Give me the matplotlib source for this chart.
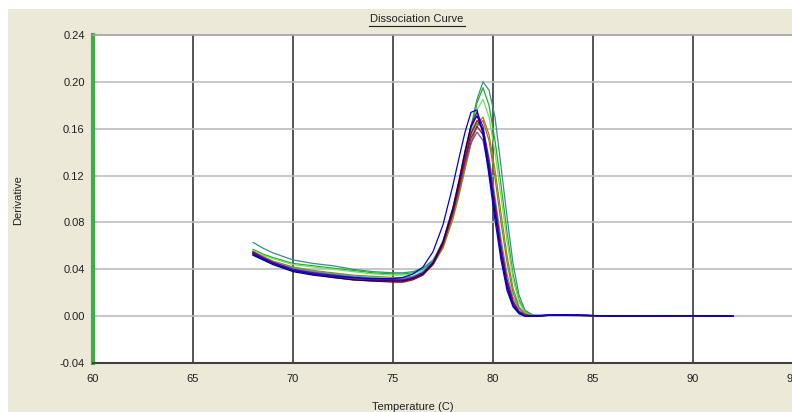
import matplotlib.pyplot as plt
from matplotlib.patches import Rectangle
from matplotlib.lines import Line2D

# temperature grid (C)
temps = [68, 68.5, 69, 70, 71, 72, 73, 74, 75, 75.5, 76, 76.5, 77, 77.5, 78,
         78.3, 78.6, 78.9, 79.2, 79.5, 79.8, 80.1, 80.4, 80.7, 81.0, 81.3, 81.6,
         82.0, 83, 84, 86, 88, 90, 92]

# derivative curves, one per well
teal = [0.063, 0.058, 0.054, 0.048, 0.045, 0.043, 0.040, 0.038, 0.037, 0.037, 0.038, 0.041, 0.048, 0.062, 0.088,
        0.110, 0.135, 0.162, 0.185, 0.200, 0.193, 0.170, 0.128, 0.085, 0.045, 0.018, 0.005,
        0.001, 0.001, 0.001, 0.0, 0.0, 0.0005, 0.0]
green = [0.057, 0.053, 0.050, 0.045, 0.043, 0.041, 0.039, 0.037, 0.036, 0.036, 0.037, 0.040, 0.047, 0.061, 0.087,
         0.108, 0.132, 0.158, 0.182, 0.195, 0.180, 0.150, 0.112, 0.072, 0.036, 0.014, 0.004,
         0.0, 0.001, 0.0008, 0.0, 0.0002, 0.0004, 0.0]
blue = [0.053, 0.049, 0.045, 0.039, 0.036, 0.034, 0.033, 0.032, 0.032, 0.033, 0.036, 0.042, 0.055, 0.078, 0.112,
        0.135, 0.157, 0.174, 0.176, 0.155, 0.120, 0.082, 0.048, 0.022, 0.008, 0.002, 0.0,
        0.0, 0.001, 0.001, 0.0, 0.0002, 0.0004, 0.0]
navy = [0.052, 0.048, 0.044, 0.038, 0.035, 0.033, 0.031, 0.030, 0.030, 0.030, 0.032, 0.036, 0.045, 0.063, 0.092,
        0.115, 0.140, 0.162, 0.171, 0.158, 0.125, 0.088, 0.052, 0.025, 0.009, 0.003, 0.0,
        0.0, 0.001, 0.0008, 0.0, 0.0002, 0.0004, 0.0]
purple = [0.055, 0.050, 0.046, 0.040, 0.037, 0.035, 0.033, 0.031, 0.031, 0.031, 0.033, 0.037, 0.046, 0.064, 0.093,
          0.116, 0.141, 0.163, 0.174, 0.162, 0.130, 0.093, 0.056, 0.028, 0.011, 0.003, 0.0,
          0.0, 0.0008, 0.001, 0.0, 0.0, 0.0004, 0.0]
red = [0.054, 0.049, 0.045, 0.039, 0.036, 0.033, 0.031, 0.030, 0.029, 0.029, 0.031, 0.035, 0.044, 0.061, 0.089,
       0.111, 0.135, 0.156, 0.167, 0.160, 0.132, 0.097, 0.060, 0.031, 0.013, 0.004, 0.001,
       0.0, 0.0008, 0.0005, 0.0, 0.0002, 0.0, 0.0]
maroon = [0.053, 0.049, 0.045, 0.039, 0.036, 0.034, 0.032, 0.031, 0.030, 0.030, 0.032, 0.036, 0.045, 0.062, 0.089,
          0.110, 0.133, 0.152, 0.162, 0.155, 0.128, 0.094, 0.058, 0.030, 0.012, 0.004, 0.001,
          0.0, 0.001, 0.0008, 0.0, 0.0002, 0.0004, 0.0]
violet = [0.054, 0.050, 0.046, 0.040, 0.037, 0.035, 0.033, 0.032, 0.031, 0.031, 0.033, 0.037, 0.046, 0.062, 0.088,
          0.108, 0.130, 0.148, 0.157, 0.150, 0.124, 0.090, 0.055, 0.028, 0.011, 0.003, 0.0,
          0.0, 0.001, 0.001, 0.0, 0.0002, 0.0004, 0.0]
olive = [0.055, 0.051, 0.047, 0.042, 0.039, 0.037, 0.035, 0.034, 0.033, 0.033, 0.034, 0.037, 0.044, 0.058, 0.083,
         0.103, 0.125, 0.147, 0.163, 0.170, 0.155, 0.125, 0.088, 0.052, 0.024, 0.008, 0.002,
         0.0, 0.0008, 0.0008, 0.0, 0.0, 0.0004, 0.0]
lightgreen = [0.056, 0.052, 0.049, 0.044, 0.042, 0.040, 0.038, 0.036, 0.035, 0.035, 0.036, 0.039, 0.046, 0.060, 0.086,
              0.106, 0.130, 0.155, 0.176, 0.185, 0.170, 0.140, 0.102, 0.064, 0.032, 0.012, 0.003,
              0.0, 0.001, 0.0008, 0.0, 0.0002, 0.0004, 0.0]
cyan = [0.053, 0.049, 0.046, 0.041, 0.038, 0.036, 0.034, 0.033, 0.032, 0.032, 0.034, 0.038, 0.047, 0.064, 0.091,
        0.112, 0.135, 0.155, 0.165, 0.160, 0.136, 0.102, 0.066, 0.036, 0.016, 0.006, 0.001,
        0.0, 0.001, 0.001, 0.0, 0.0, 0.0004, 0.0]
brown = [0.054, 0.050, 0.046, 0.041, 0.038, 0.036, 0.034, 0.032, 0.031, 0.031, 0.033, 0.036, 0.044, 0.060, 0.086,
         0.106, 0.128, 0.148, 0.162, 0.167, 0.150, 0.118, 0.080, 0.046, 0.020, 0.007, 0.002,
         0.0, 0.001, 0.0008, 0.0, 0.0002, 0.0004, 0.0]

curves = [teal, green, lightgreen, olive, brown, cyan, violet, maroon, red, purple, navy, blue]
colors = ['#3C8C8C', '#20B020', '#70E070', '#909000', '#A07030', '#20B0C0',
          '#7050B0', '#8C1C3C', '#C00000', '#800080', '#000080', '#0000E0']

xticks = [60, 65, 70, 75, 80, 85, 90, 95]
yticks = [-0.04, 0.00, 0.04, 0.08, 0.12, 0.16, 0.20, 0.24]

W, H = 792, 412
plt.rcParams['font.family'] = ['Liberation Sans', 'DejaVu Sans']
fig = plt.figure(figsize=(W / 100, H / 100), dpi=100, facecolor='white')

# windows style beige panel, behind the axes
fig.add_artist(Rectangle((8 / W, 0), 1, 1 - 9 / H, transform=fig.transFigure,
                         facecolor='#ECE9D8', edgecolor='none', zorder=-10))

ax = fig.add_axes([93 / W, 49 / H, 700 / W, 328 / H])
ax.set_facecolor('white')
ax.set_xlim(60, 95)
ax.set_ylim(-0.04, 0.24)

for x in xticks[1:-1]:
    ax.axvline(x, color='#3A3A3A', lw=1.2, zorder=1)
for y in yticks[1:-1]:
    ax.axhline(y, color='#BCBCBC', lw=1.2, zorder=1)

for vals, c in zip(curves, colors):
    ax.plot(temps, vals, color=c, lw=0.9, zorder=3)

ax.set_xticks(xticks)
ax.set_xticklabels([str(t) for t in xticks])
ax.set_yticks(yticks)
ax.set_yticklabels([f'{t:.2f}' for t in yticks])
ax.tick_params(length=0, labelsize=8, colors='#202020', pad=6)
ax.tick_params(axis='x', pad=8)

ax.spines['right'].set_visible(False)
ax.spines['top'].set_color('#A0A0A0')
ax.spines['top'].set_linewidth(1.2)
ax.spines['bottom'].set_color('#404040')
ax.spines['bottom'].set_linewidth(1.5)
ax.spines['left'].set_color('#3CB043')
ax.spines['left'].set_linewidth(3)

# title with underline
fig.text(417 / W, 1 - 19 / H, 'Dissociation Curve', ha='center', va='center', fontsize=8, color='#202020')
fig.add_artist(Line2D([369 / W, 465 / W], [1 - 26 / H, 1 - 26 / H], color='#202020', lw=0.8,
                      transform=fig.transFigure))

fig.text(18 / W, 1 - 200 / H, 'Derivative', rotation=90, ha='center', va='center', fontsize=8, color='#202020')
fig.text(413 / W, 1 - 402 / H, 'Temperature (C)', ha='center', va='top', fontsize=8, color='#202020')

fig.savefig('out.png', dpi=100, facecolor=fig.get_facecolor())
